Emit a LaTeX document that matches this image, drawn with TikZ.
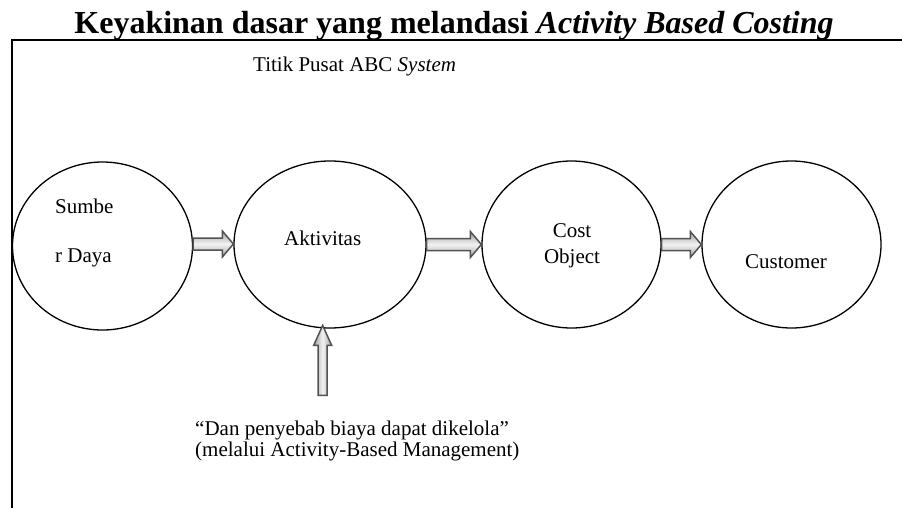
\documentclass[tikz,border=0pt]{standalone}
\usepackage{fontspec}
\setmainfont{Liberation Serif}
\usetikzlibrary{shapes.geometric,calc}
\tikzset{
  circ/.style={ellipse, draw, line width=1.3pt, inner sep=0pt},
  lbl/.style={font=\fontsize{21}{22}\selectfont, inner sep=0pt},
  arrowbody/.style={draw=gray!65!black, line width=1.5pt},
  arrowshadow/.style={fill=gray!45},
  frameline/.style={line width=1.5pt},
}
\newcommand{\harrowpath}[2]{(#1) -- ($(#1)+(0,-6)$) -- ($(#2)+(-11,-6)$) -- ($(#2)+(-11,-13)$) -- (#2) -- ($(#2)+(-11,13)$) -- ($(#2)+(-11,6)$) -- ($(#1)+(0,6)$) -- cycle}
\newcommand{\varrowpath}[2]{($(#1)+(-4.5,0)$) -- ($(#2)+(-4.5,20)$) -- ($(#2)+(-9,20)$) -- (#2) -- ($(#2)+(9,20)$) -- ($(#2)+(4.5,20)$) -- ($(#1)+(4.5,0)$) -- cycle}
\begin{document}
\begin{tikzpicture}[x=1pt,y=-1pt]
\useasboundingbox (0,0) rectangle (902,508);
% frame
\draw[frameline] (12,508) -- (12,40) -- (902,40);
% title
\node[font=\fontsize{32}{34}\selectfont\bfseries, anchor=base, inner sep=0pt] (title) at (454,34) {Keyakinan dasar yang melandasi \textit{Activity Based Costing}};
\node[lbl, anchor=base west] (pusat) at (253,72) {Titik Pusat ABC \textit{System}};
% ellipses
\node[circ, minimum width=180, minimum height=168] (s) at (102.5,246) {};
\node[circ, minimum width=192, minimum height=167] (a) at (330,244.5) {};
\node[circ, minimum width=179, minimum height=167] (c) at (571.5,244.5) {};
\node[circ, minimum width=179, minimum height=167] (u) at (791.5,244.5) {};
% labels
\node[lbl, anchor=base west] (s1) at (55,213) {Sumbe};
\node[lbl, anchor=base west] (s2) at (55,262) {r Daya};
\node[lbl, anchor=base west] (al) at (284,245) {Aktivitas};
\node[lbl, anchor=base] (c1) at (572,237) {Cost};
\node[lbl, anchor=base] (c2) at (572,263) {Object};
\node[lbl, anchor=base] (ul) at (786,268) {Customer};
\node[lbl, anchor=base west] (b1) at (195,435) {``Dan penyebab biaya dapat dikelola''};
\node[lbl, anchor=base west] (b2) at (195,456) {(melalui Activity-Based Management)};
% arrow coordinates
\coordinate (p1) at ($(s.east)+(0,-2)$);
\coordinate (q1) at (a.west |- p1);
\coordinate (p2) at (a.east);
\coordinate (q2) at (c.west);
\coordinate (p3) at (c.east);
\coordinate (q3) at (u.west);
\coordinate (vt) at ($(a.265)+(0,-3)$);
\coordinate (vb) at ($(vt)+(0,70)$);
% shadows
\begin{scope}[shift={(2.5,3)}]
\fill[arrowshadow] \harrowpath{p1}{q1};
\fill[arrowshadow] \harrowpath{p2}{q2};
\fill[arrowshadow] \harrowpath{p3}{q3};
\fill[arrowshadow] \varrowpath{vb}{vt};
\end{scope}
% arrows
\shade[arrowbody, top color=gray!75, bottom color=gray!75, middle color=gray!10] \harrowpath{p1}{q1};
\shade[arrowbody, top color=gray!75, bottom color=gray!75, middle color=gray!10] \harrowpath{p2}{q2};
\shade[arrowbody, top color=gray!75, bottom color=gray!75, middle color=gray!10] \harrowpath{p3}{q3};
\shade[arrowbody, left color=gray!75, right color=gray!75, middle color=gray!10] \varrowpath{vb}{vt};
\end{tikzpicture}
\end{document}
